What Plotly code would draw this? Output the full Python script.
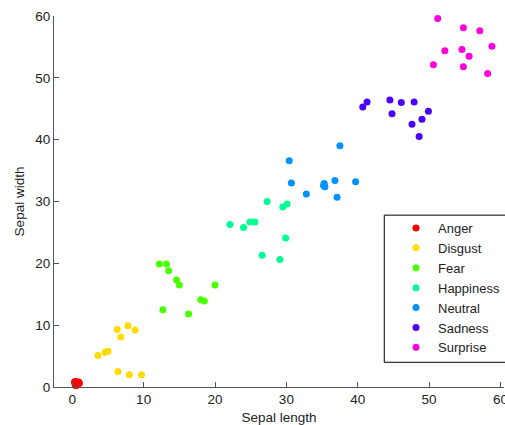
import plotly.graph_objects as go

categories = ["Anger", "Disgust", "Fear", "Happiness", "Neutral", "Sadness", "Surprise"]
colors = ["rgb(255,0,0)", "rgb(255,219,0)", "rgb(73,255,0)", "rgb(0,255,146)",
          "rgb(0,146,255)", "rgb(73,0,255)", "rgb(255,0,219)"]

anger_x = [0.3, 0.5, 0.7, 0.9, 1.0, 0.4, 0.6, 0.8, 0.5, 0.7]
anger_y = [0.8, 0.9, 0.7, 0.8, 0.6, 0.4, 0.3, 0.5, 0.2, 0.4]

disgust_x = [6.3, 7.8, 8.8, 6.8, 3.6, 4.6, 5.0, 6.4, 8.0, 9.7]
disgust_y = [9.3, 9.9, 9.2, 8.1, 5.1, 5.6, 5.8, 2.5, 2.0, 2.0]

fear_x = [12.2, 13.2, 13.5, 14.6, 15.0, 20.0, 18.0, 18.5, 12.7, 16.3]
fear_y = [19.9, 19.9, 18.8, 17.3, 16.5, 16.5, 14.1, 13.9, 12.5, 11.8]

happiness_x = [22.1, 24.0, 24.9, 25.6, 27.3, 29.5, 30.1, 29.9, 26.6, 29.1]
happiness_y = [26.3, 25.8, 26.7, 26.7, 30.0, 29.1, 29.6, 24.1, 21.3, 20.6]

neutral_x = [30.4, 37.5, 30.7, 32.8, 35.3, 35.4, 36.8, 39.7, 37.1, 35.2]
neutral_y = [36.6, 39.0, 33.0, 31.2, 32.9, 32.4, 33.4, 33.2, 30.7, 32.6]

sadness_x = [40.7, 41.3, 44.5, 46.1, 47.9, 44.8, 49.9, 49.0, 47.6, 48.6]
sadness_y = [45.3, 46.1, 46.4, 46.0, 46.1, 44.2, 44.6, 43.3, 42.5, 40.5]

surprise_x = [51.2, 54.8, 57.1, 58.8, 52.2, 54.6, 55.6, 50.6, 54.8, 58.2]
surprise_y = [59.6, 58.1, 57.6, 55.1, 54.4, 54.6, 53.5, 52.1, 51.8, 50.7]

xs = [anger_x, disgust_x, fear_x, happiness_x, neutral_x, sadness_x, surprise_x]
ys = [anger_y, disgust_y, fear_y, happiness_y, neutral_y, sadness_y, surprise_y]

x_ticks = [0, 10, 20, 30, 40, 50, 60]
y_ticks = [0, 10, 20, 30, 40, 50, 60]

fig = go.Figure()
for name, c, x, y in zip(categories, colors, xs, ys):
    fig.add_trace(go.Scatter(x=x, y=y, mode="markers", name=name,
                             marker=dict(color=c, size=7, symbol="circle", line=dict(width=0)),
                             cliponaxis=False))

font = dict(family="Liberation Sans, Arial, sans-serif", size=13.5, color="#222222")
legend_font = dict(family="Liberation Sans, Arial, sans-serif", size=13, color="#222222")
axis_common = dict(showgrid=False, zeroline=False, showline=True, linecolor="#555555",
                   linewidth=1, ticks="inside", ticklen=5, tickcolor="#555555",
                   tickfont=font, mirror=False, automargin=False,
                   ticklabeloverflow="allow")

# legend frame (extends past the right edge like the reference)
fig.add_shape(type="rect", xref="paper", yref="paper",
              x0=0.7339, x1=1.08, y0=0.0666, y1=0.4632,
              line=dict(color="#000000", width=1), fillcolor="white", layer="below")

fig.update_layout(
    width=505, height=425,
    margin=dict(l=54, r=0, t=16, b=38),
    paper_bgcolor="white", plot_bgcolor="rgba(0,0,0,0)",
    font=font,
    xaxis=dict(range=[-2.56, 60.49], tickvals=x_ticks,
               title=dict(text="Sepal length", font=font, standoff=6), **axis_common),
    yaxis=dict(range=[0, 60], tickvals=y_ticks,
               title=dict(text="Sepal width", font=font, standoff=7), **axis_common),
    legend=dict(x=0.756, y=0.469, xanchor="left", yanchor="top",
                borderwidth=0, bgcolor="rgba(0,0,0,0)",
                font=legend_font, itemwidth=34),
    showlegend=True,
)

fig.write_html("out.html", config={"displayModeBar": False},
               post_script="document.body.style.margin='0px';document.body.style.overflow='hidden';")
